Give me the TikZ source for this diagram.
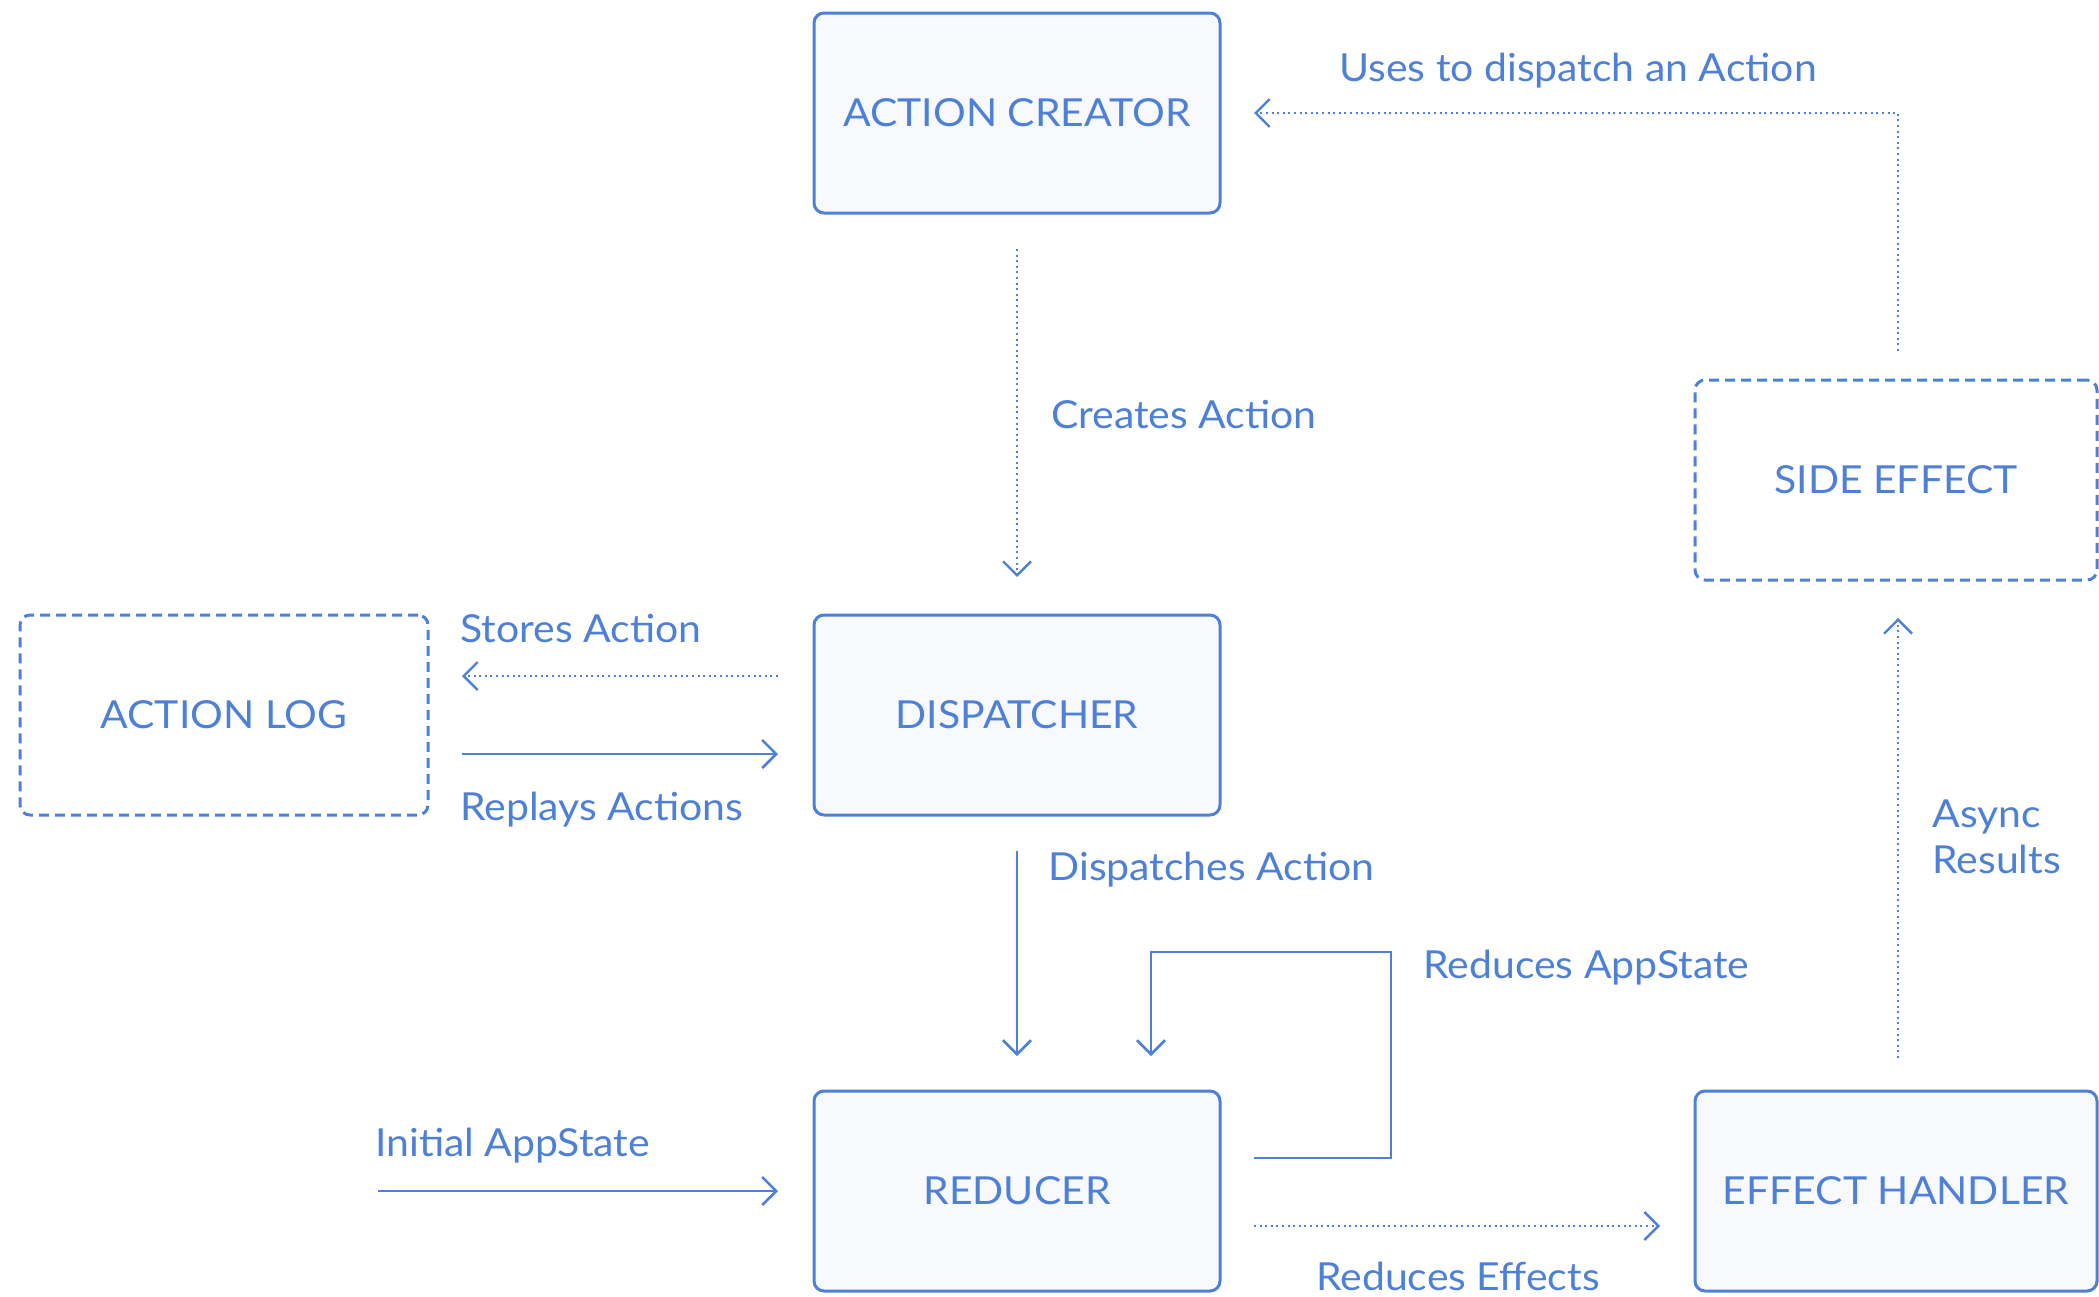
\documentclass[tikz,border=0pt]{standalone}
\usepackage{fontspec}
\setmainfont{Lato}[FakeStretch=1.06]
\usetikzlibrary{arrows.meta}
\definecolor{flowblue}{RGB}{77,128,214}
\definecolor{boxfill}{RGB}{247,249,253}
\begin{document}
\begin{tikzpicture}[x=0.5pt,y=-0.5pt,
  font=\fontsize{19.3}{23}\selectfont,
  every node/.style={text=flowblue},
  solidbox/.style={draw=flowblue, line width=1.5pt, fill=boxfill, rounded corners=5pt,
     minimum width=203pt, minimum height=100pt, inner sep=0pt, outer sep=0pt},
  dashbox/.style={draw=flowblue, line width=1.5pt, fill=white, rounded corners=5pt,
     dash pattern=on 5pt off 3pt,
     minimum width=203pt, minimum height=100pt, inner sep=0pt, outer sep=0pt},
  solidarrow/.style={draw=flowblue, line width=1.3pt, -{Straight Barb[length=7pt,width=14pt,line width=1.3pt]}},
  dotarrow/.style={draw=flowblue, line width=1.2pt, dash pattern=on 1pt off 1.8pt,
     -{Straight Barb[length=7pt,width=14pt,line width=1.2pt,sep=0pt]}},
  lbl/.style={anchor=base west, inner sep=0pt}
]
\useasboundingbox (0,0) rectangle (2099,1296);
\fill[white] (0,0) rectangle (2099,1296);

\node[solidbox] (ac) at (1017,113) {ACTION CREATOR};
\node[solidbox] (disp) at (1017,715) {DISPATCHER};
\node[solidbox] (red) at (1017,1191) {REDUCER};
\node[solidbox, minimum width=201pt] (eh) at (1896,1191) {EFFECT HANDLER};
\node[dashbox, minimum width=201pt] (se) at (1896,480) {SIDE EFFECT};
\node[dashbox, minimum width=204pt] (al) at (224,715) {ACTION LOG};
\coordinate (init) at (378,1191);

% connectors
\draw[dotarrow, shorten <=18pt, shorten >=19pt] (ac.south) -- (disp.north);
\draw[dotarrow, shorten <=18pt, shorten >=17pt] ([yshift=19.5pt]disp.west) -- ([yshift=19.5pt]al.east);
\draw[solidarrow, shorten <=17pt, shorten >=18pt] ([yshift=-19.5pt]al.east) -- ([yshift=-19.5pt]disp.west);
\draw[solidarrow, shorten <=18pt, shorten >=17.5pt] (disp.south) -- (red.north);
\draw[solidarrow] ([xshift=17pt,yshift=16.5pt]red.east) -| (1391,952) -| ([xshift=67pt,yshift=17.5pt]red.north);
\draw[solidarrow, shorten >=18pt] (init) -- (red.west);
\draw[dotarrow, shorten <=17pt, shorten >=17.5pt] ([yshift=-17.5pt]red.east) -- ([yshift=-17.5pt]eh.west);
\draw[dotarrow, shorten <=16.5pt, shorten >=19pt] ([xshift=1pt]eh.north) -- ([xshift=1pt]se.south);
\draw[dotarrow, shorten <=14.5pt, shorten >=17pt] ([xshift=1pt]se.north) |- (ac.east);

% labels
\node[lbl] (l1) at (1339,81) {Uses to dispatch an Action};
\node[lbl] (l2) at (1051,428) {Creates Action};
\node[lbl] (l3) at (460,642) {Stores Action};
\node[lbl] (l4) at (460,820) {Replays Actions};
\node[lbl] (l5) at (1048,880) {Dispatches Action};
\node[lbl] (l6) at (1423,978) {Reduces AppState};
\node[lbl] (l7) at (375,1156) {Initial AppState};
\node[anchor=base, inner sep=0pt] (l8) at (1458,1290) {Reduces Effects};
\node[lbl] (l9) at (1932,827) {Async};
\node[lbl] (l10) at (1932,873) {Results};
\end{tikzpicture}
\end{document}
